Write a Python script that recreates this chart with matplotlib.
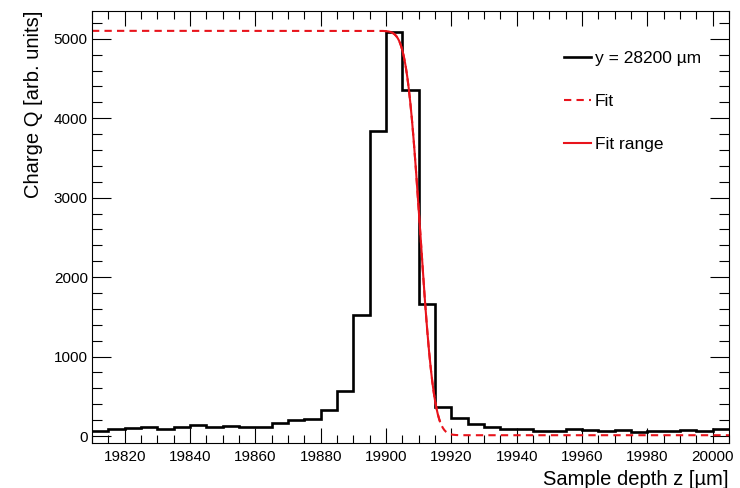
import math
import numpy as np
import matplotlib
matplotlib.use("Agg")
import matplotlib.pyplot as plt
from matplotlib.ticker import MultipleLocator

plt.rcParams['font.family'] = ['Liberation Sans', 'DejaVu Sans']

# histogram: charge per 5 um bin, first bin starts at 19810 um
bin_start = 19810
bin_width = 5
charge = [67, 92, 105, 118, 92, 113, 134, 113, 126, 113,
          113, 168, 201, 214, 331, 570, 1523, 3840, 5080, 4358,
          1658, 371, 232, 151, 109, 92, 88, 67, 67, 90,
          80, 67, 80, 55, 67, 67, 80, 67, 92]

# fit (erfc edge) parameters
fit_plateau = 5090
fit_mu = 19910.5
fit_sigma = 3.3
fit_offset = 10
fit_range = (19900, 19916.5)

legend_labels = ["y = 28200 \u00b5m", "Fit", "Fit range"]

edges = bin_start + bin_width * np.arange(len(charge) + 1)


def fit_func(z):
    return np.array([fit_offset + 0.5 * fit_plateau *
                     math.erfc((v - fit_mu) / (math.sqrt(2) * fit_sigma)) for v in z])


red = '#e8141c'
fig = plt.figure(figsize=(7.4, 4.88), dpi=100)
ax = fig.add_axes([0.1243, 0.0922, 0.8608, 0.8853])

hist_line = ax.stairs(charge, edges, baseline=None, color='black', linewidth=1.9)

z_all = np.linspace(19810, 20005, 800)
fit_line, = ax.plot(z_all, fit_func(z_all), color=red, linewidth=1.5,
                    linestyle=(0, (3.5, 2.5)))
z_rng = np.linspace(fit_range[0], fit_range[1], 200)
rng_line, = ax.plot(z_rng, fit_func(z_rng), color=red, linewidth=1.5)

ax.set_xlim(19810, 20005)
ax.set_ylim(-88, 5350)

ax.xaxis.set_major_locator(MultipleLocator(20))
ax.xaxis.set_minor_locator(MultipleLocator(5))
ax.yaxis.set_major_locator(MultipleLocator(1000))
ax.yaxis.set_minor_locator(MultipleLocator(200))
ax.tick_params(which='both', direction='in', top=True, right=True,
               labelsize=11, width=0.8, colors='black')
ax.tick_params(axis='x', which='major', length=11, pad=5)
ax.tick_params(axis='x', which='minor', length=5.5)
ax.tick_params(axis='y', which='major', length=14, pad=3)
ax.tick_params(axis='y', which='minor', length=7)
for s in ax.spines.values():
    s.set_linewidth(0.8)

ax.set_xlabel("Sample depth z [\u00b5m]", fontsize=14.5, loc='right', labelpad=4)
ax.set_ylabel("Charge Q [arb. units]", fontsize=14.5, loc='top', labelpad=8)

ax.legend([hist_line, fit_line, rng_line], legend_labels,
          loc='upper left', bbox_to_anchor=(0.717, 0.944), frameon=False,
          fontsize=12.5, handlelength=1.55, handletextpad=0.2,
          labelspacing=1.6)

fig.savefig("out.png", dpi=100)
